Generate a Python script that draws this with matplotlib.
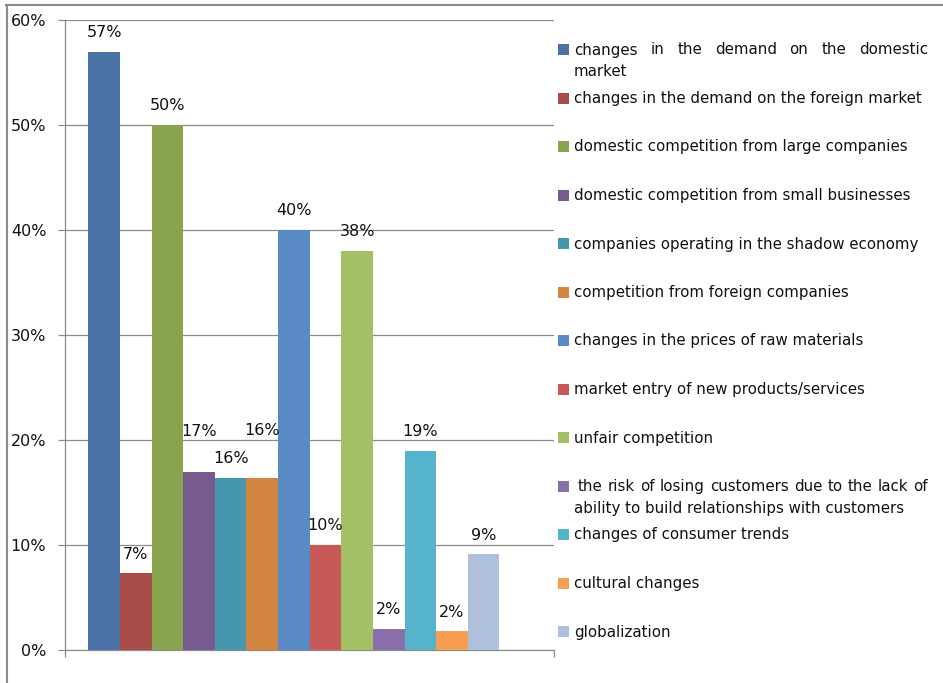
import matplotlib
matplotlib.use("Agg")
import matplotlib.pyplot as plt
from matplotlib.patches import Rectangle
from matplotlib.lines import Line2D

# ---------------- data ----------------
categories = [
    "changes in the demand on the domestic\nmarket",
    "changes in the demand on the foreign market",
    "domestic competition from large companies",
    "domestic competition from small businesses",
    "companies operating in the shadow economy",
    "competition from foreign companies",
    "changes in the prices of raw materials",
    "market entry of new products/services",
    "unfair competition",
    " the risk of losing customers due to the lack of\nability to build relationships with customers",
    "changes of consumer trends",
    "cultural changes",
    "globalization",
]
values = [57, 7.3, 50, 17, 16.4, 16.4, 40, 10, 38, 2, 19, 1.8, 9.1]
yticks = [0, 10, 20, 30, 40, 50, 60]
colors = ["#4A72A6", "#A84D4A", "#89A44F", "#765B8F", "#4697AE", "#D1853F",
          "#5A8AC5", "#C75A58", "#A4C064", "#8A6FAA", "#55B3CC", "#F79E53",
          "#AFC0DB"]

# ---------------- layout ----------------
W, H = 943, 683
fig = plt.figure(figsize=(W / 100, H / 100), dpi=100)
plt.rcParams['font.family'] = ['DejaVu Sans']

def fx(x):
    return x / W

def fy(y):
    return 1 - y / H

ax_left, ax_right, ax_top, ax_bot = 65, 554, 20, 650
ax = fig.add_axes([fx(ax_left), fy(ax_bot), (ax_right - ax_left) / W, (ax_bot - ax_top) / H])

grid_col = "#8C8C8C"
txt_col = "#111111"

x = list(range(len(values)))
bars = ax.bar(x, values, width=1.0, color=colors, edgecolor="none", zorder=3)

xmin, xmax = -1.237, 14.225
ax.set_xlim(xmin, xmax)
ax.set_ylim(0, 60)
ax.set_yticks(yticks)
ax.set_yticklabels([f"{t}%" for t in yticks], fontsize=11.5, color=txt_col)
ax.set_xticks([xmin, xmax])
ax.set_xticklabels([])
ax.tick_params(axis='both', direction='out', length=5, width=0.9, color=grid_col, pad=8.5)
ax.yaxis.grid(True, color=grid_col, linewidth=0.9, zorder=0)
ax.set_axisbelow(True)
for s in ["top", "right"]:
    ax.spines[s].set_visible(False)
for s in ["left", "bottom"]:
    ax.spines[s].set_color(grid_col)
    ax.spines[s].set_linewidth(0.9)

# data labels
extra_raise = {3: 15, 5: 20}   # labels moved up in the original (points)
for i, (b, v) in enumerate(zip(bars, values)):
    ax.annotate(f"{v:.0f}%", (b.get_x() + b.get_width() / 2, v),
                xytext=(0, 10.5 + extra_raise.get(i, 0)), textcoords="offset points",
                ha="center", va="baseline", fontsize=11.5, color=txt_col, zorder=5)

# ---------------- legend (manual) ----------------
fig.canvas.draw()
renderer = fig.canvas.get_renderer()
leg_fs = 10.8
row0, row_step, line_step = 49.5, 48.5, 22
base_off = 5
text_x, just_right = 574, 928
for i, (lab, col) in enumerate(zip(categories, colors)):
    yc = row0 + i * row_step
    fig.patches.append(Rectangle((fx(558), fy(yc + 5.5)), 11 / W, 11 / H,
                                 transform=fig.transFigure, facecolor=col,
                                 edgecolor="none", figure=fig))
    lines = lab.split("\n")
    for j, line in enumerate(lines):
        y_line = yc + j * line_step + base_off
        if len(lines) > 1 and j == 0:
            # justified first line
            start = text_x + (4 if line.startswith(" ") else 0)
            words = line.strip().split(" ")
            txts, widths = [], []
            for w in words:
                t = fig.text(0, 0, w, fontsize=leg_fs, color=txt_col, va="baseline", ha="left")
                txts.append(t)
                widths.append(t.get_window_extent(renderer).width)
            gap = (just_right - start - sum(widths)) / (len(words) - 1)
            cx = start
            for t, wd in zip(txts, widths):
                t.set_position((fx(cx), fy(y_line)))
                cx += wd + gap
        else:
            fig.text(fx(text_x), fy(y_line), line, fontsize=leg_fs, color=txt_col,
                     va="baseline", ha="left")

# outer frame (top and left edges visible)
frame_col = "#8A8A8A"
fig.lines.append(Line2D([fx(6), fx(943)], [fy(5), fy(5)], transform=fig.transFigure,
                        color=frame_col, linewidth=1.5, figure=fig))
fig.lines.append(Line2D([fx(7), fx(7)], [fy(5), fy(683)], transform=fig.transFigure,
                        color=frame_col, linewidth=1.5, figure=fig))

fig.savefig("out.png", dpi=100, facecolor="white")
